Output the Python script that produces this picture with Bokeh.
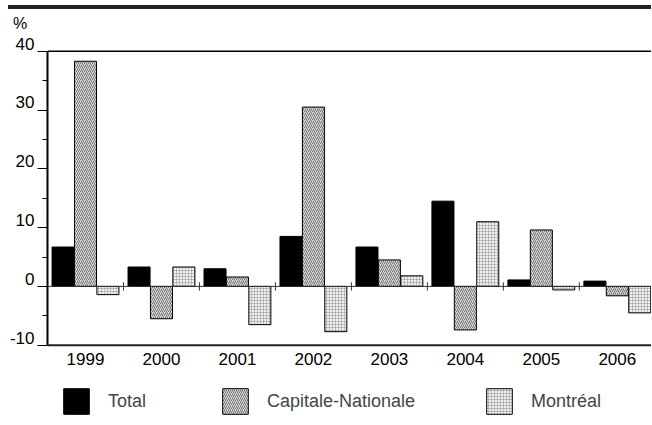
import numpy as np
from bokeh.plotting import figure
from bokeh.models import (Range1d, FixedTicker, LinearAxis, Span, Legend, LegendItem,
                          Div, ColumnDataSource, CustomLabelingPolicy)
from bokeh.core.properties import value
from bokeh.layouts import column
from bokeh.transform import dodge
from bokeh.embed import file_html
from bokeh.resources import INLINE

years = ["1999", "2000", "2001", "2002", "2003", "2004", "2005", "2006"]
total = [6.7, 3.3, 3.0, 8.5, 6.7, 14.5, 1.1, 0.9]
capitale = [38.3, -5.5, 1.6, 30.5, 4.5, -7.4, 9.6, -1.6]
montreal = [-1.4, 3.3, -6.5, -7.7, 1.8, 11.0, -0.6, -4.5]
y_ticks = [-10, 0, 10, 20, 30, 40]
y_minor = [-5, 5, 15, 25, 35]

FONT = "Liberation Sans"
xc = np.arange(len(years)) + 0.5
src = ColumnDataSource(dict(x=xc, total=total, cap=capitale, mtl=montreal, year=years))

YMIN, YMAX = -10, 40
p = figure(width=651, height=391, output_backend="svg", toolbar_location=None,
           x_range=Range1d(0, 7.95), y_range=Range1d(-22.64, 42),
           min_border_left=47, min_border_right=0, min_border_top=11, min_border_bottom=0,
           x_axis_location=None, y_axis_location=None)
p.outline_line_color = None
p.xgrid.visible = False
p.ygrid.visible = False

W = 0.29
OFF = 0.295
r1 = p.vbar(x=dodge("x", -OFF, range=p.x_range), top="total", bottom=0, width=W, source=src,
            fill_color="black", line_color="black", line_width=1)
r2 = p.vbar(x="x", top="cap", bottom=0, width=W, source=src,
            fill_color="#dcdcdc", line_color="black", line_width=1,
            hatch_pattern="/", hatch_color="#444444", hatch_scale=4, hatch_weight=0.7)
r3 = p.vbar(x=dodge("x", OFF, range=p.x_range), top="mtl", bottom=0, width=W, source=src,
            fill_color="#f0f0f0", line_color="black", line_width=1,
            hatch_pattern="+", hatch_color="#999999", hatch_scale=3, hatch_weight=0.6)

# zero line and category separators
p.add_layout(Span(location=0, dimension="width", line_color="#333333", line_width=1))
bounds = np.arange(1, len(years))
p.segment(x0=bounds, x1=bounds, y0=-0.7, y1=0.7, line_color="#333333", line_width=1)

# top and bottom frame lines
p.add_layout(Span(location=YMAX, dimension="width", line_color="black", line_width=1.5))
p.add_layout(Span(location=YMIN, dimension="width", line_color="#222222", line_width=2))

# x category labels
p.text(x="x", y=YMIN, text="year", source=src, text_align="center", text_baseline="top",
       y_offset=8, text_font=value(FONT), text_font_size="17px", text_color="black")

# y axis (line + ticks, labels suppressed)
no_labels = CustomLabelingPolicy(code="return new indices.constructor(indices.size)")
yax = LinearAxis(ticker=FixedTicker(ticks=y_ticks, minor_ticks=y_minor), bounds=(YMIN, YMAX),
                 major_label_policy=no_labels)
yax.axis_line_width = 2
yax.axis_line_color = "black"
yax.major_tick_out = 10
yax.major_tick_in = 0
yax.minor_tick_out = 5
yax.minor_tick_in = 0
yax.major_tick_line_color = "black"
yax.minor_tick_line_color = "black"
yax.major_label_text_font_size = "0px"
yax.major_label_standoff = 0
p.add_layout(yax, "left")

# y tick labels, sitting just above their tick marks
LIFT = 1.3
lab_ax = LinearAxis(ticker=FixedTicker(ticks=[v + LIFT for v in y_ticks]),
                    major_label_overrides={v + LIFT: str(v) for v in y_ticks})
lab_ax.axis_line_color = None
lab_ax.major_tick_line_color = None
lab_ax.minor_tick_line_color = None
lab_ax.major_tick_out = 0
lab_ax.major_label_text_font = FONT
lab_ax.major_label_text_font_size = "17px"
lab_ax.major_label_text_color = "black"
lab_ax.major_label_standoff = 3
p.add_layout(lab_ax, "left")

def mk_legend(label, r, x):
    lg = Legend(items=[LegendItem(label=label, renderers=[r])], location=(x, 2),
                orientation="horizontal", glyph_width=32, glyph_height=32,
                label_standoff=16, label_text_font=FONT, label_text_font_size="18px",
                padding=0, margin=0, border_line_color=None, background_fill_alpha=0)
    p.add_layout(lg, "center")

mk_legend("Total", r1, 13)
mk_legend("Capitale-Nationale", r2, 172)
mk_legend("Montréal", r3, 436)

rule = Div(text='<div style="font-family:\'Liberation Sans\';font-size:16px;line-height:16px;margin:7px 0 0 5px;">%</div>',
           width=643, height=18,
           styles={"border-top": "4px solid #222222", "margin-left": "8px"})
layout = column(rule, p, spacing=0)
open("out.html", "w").write(file_html(layout, INLINE))
